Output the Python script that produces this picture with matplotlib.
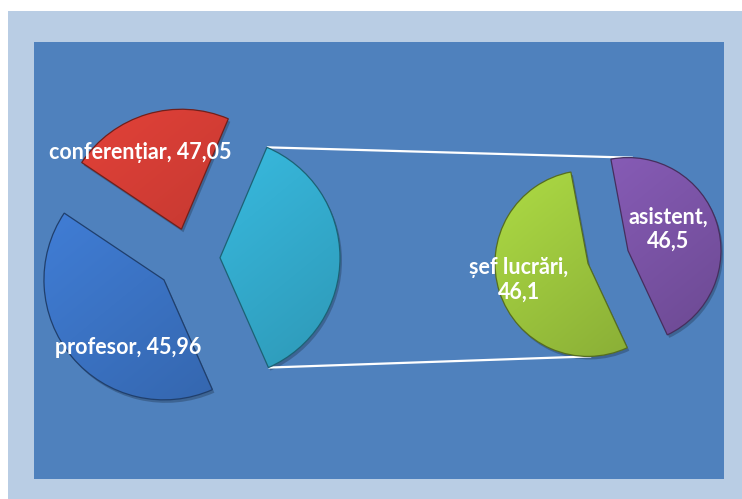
import numpy as np
import matplotlib
matplotlib.use("Agg")
import matplotlib.pyplot as plt
from matplotlib import patches
from matplotlib.colors import to_rgb

# ---- data ----
main_labels = ["profesor", "conferențiar", "Altele"]
main_values = ["45,96", "47,05", ""]
main_shares = [41.0, 22.0, 37.0]          # slice sizes
sec_labels = ["șef lucrări", "asistent"]
sec_values = ["46,1", "46,5"]
sec_shares = [54.0, 46.0]

main_colors = ["#3B73C4", "#CC3B33", "#35B0D3"]
sec_colors = ["#9BC43D", "#7D55A9"]

W, H = 742, 499
fig = plt.figure(figsize=(W / 100, H / 100), dpi=100, facecolor="white")
ax = fig.add_axes([0, 0, 1, 1])

# frames
ax.add_patch(patches.Rectangle((8, 0), W - 8, H - 11, facecolor="#B9CDE4", edgecolor="none", zorder=0))
ax.add_patch(patches.Rectangle((34, 20), 724 - 34, 457 - 20, facecolor="#4F81BD", edgecolor="none", zorder=0.5))


def shade(wedges, colors):
    for w, c in zip(wedges, colors):
        base = np.array(to_rgb(c))
        cx, cy = w.center
        r = w.r
        sh = patches.Wedge((cx + 2, cy - 3), r, w.theta1, w.theta2,
                           facecolor="black", alpha=0.22, edgecolor="none", zorder=1)
        ax.add_patch(sh)
        w.set_zorder(2)
        n = 120
        yy, xx = np.mgrid[0:n, 0:n] / (n - 1)
        t = 0.55 * yy + 0.45 * xx
        light = 1.12 - 0.26 * t
        img = np.clip(base[None, None, :] * light[..., None], 0, 1)
        im = ax.imshow(img, extent=(cx - r, cx + r, cy - r, cy + r), origin="upper",
                       zorder=3, interpolation="bilinear", aspect="auto")
        im.set_clip_path(w)
        ol = patches.Wedge((cx, cy), r, w.theta1, w.theta2, fill=False,
                           edgecolor=tuple(base * 0.55), linewidth=0.9, zorder=4)
        ax.add_patch(ol)


main_wedges, _ = ax.pie(main_shares, colors=main_colors, center=(190, 241), radius=120,
                        explode=[34, 30, 30], startangle=-66.2, counterclock=False,
                        frame=True, wedgeprops=dict(edgecolor="none"))
sec_wedges, _ = ax.pie(sec_shares, colors=sec_colors, center=(608, 242), radius=93,
                       explode=[21, 21], startangle=-65, counterclock=False,
                       frame=True, wedgeprops=dict(edgecolor="none"))

shade(main_wedges, main_colors)
shade(sec_wedges, sec_colors)

# connector lines
other = main_wedges[2]
g, p = sec_wedges
def pt(w, ang):
    cx, cy = w.center
    return cx + w.r * np.cos(np.radians(ang)), cy + w.r * np.sin(np.radians(ang))
a_top = pt(other, other.theta2)
a_bot = pt(other, other.theta1)
b_top = pt(p, 87)
b_bot = pt(g, 272)
ax.plot([a_top[0], b_top[0]], [a_top[1], b_top[1]], color="white", lw=1.6, zorder=1.5, solid_capstyle="butt")
ax.plot([a_bot[0], b_bot[0]], [a_bot[1], b_bot[1]], color="white", lw=1.6, zorder=1.5, solid_capstyle="butt")

fam = ["Lato", "DejaVu Sans"]
tk = dict(color="white", fontweight="bold", family=fam, fontsize=15.5, zorder=6,
          ha="center", va="center", linespacing=1.2)
ax.text(140, 347, f"{main_labels[1]}, {main_values[1]}", **tk)
ax.text(128, 151, f"{main_labels[0]}, {main_values[0]}", **tk)
ax.text(519, 219, f"{sec_labels[0]},\n{sec_values[0]}", **tk)
ax.text(668, 270, f"{sec_labels[1]},\n{sec_values[1]}", **tk)

ax.set_xlim(0, W)
ax.set_ylim(0, H)
ax.set_aspect("auto")
ax.axis("off")

fig.savefig("out.png", dpi=100, facecolor="white")
